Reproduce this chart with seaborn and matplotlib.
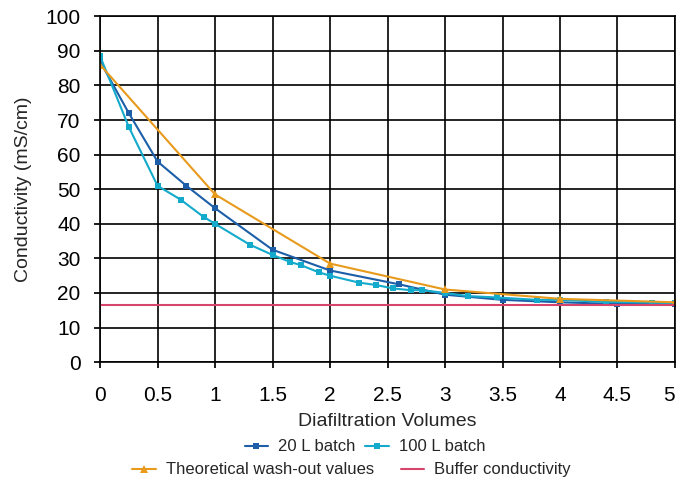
import numpy as np
import pandas as pd
import matplotlib
matplotlib.use('Agg')
import matplotlib.pyplot as plt
import seaborn as sns

#%% data
dv_20 = [0, 0.25, 0.5, 0.75, 1.0, 1.5, 2.0, 2.6, 3.0, 3.5, 4.0, 4.5, 5.0]
cond_20 = [87, 72, 58, 51, 44.5, 32.5, 26.5, 22.5, 19.5, 18, 17.3, 16.8, 16.8]

dv_100 = [0, 0.25, 0.5, 0.7, 0.9, 1.0, 1.3, 1.5, 1.65, 1.75, 1.9, 2.0, 2.25, 2.4,
          2.55, 2.7, 2.8, 3.0, 3.2, 3.45, 3.8, 4.0, 4.4, 4.8, 5.0]
cond_100 = [88.5, 68, 51, 47, 42, 40, 34, 31, 29, 28, 26, 25, 23, 22.3,
            21.3, 20.8, 20.8, 20, 19.1, 18.7, 18, 18, 17.4, 17.2, 17]

dv_theo = [0, 1, 2, 3, 4, 5]
cond_theo = [86, 48.5, 28.5, 21, 18.3, 17.3]

buffer_x = [0, 5]
buffer_y = [16.5, 16.5]

xtick_labels = ['0', '0.5', '1', '1.5', '2', '2.5', '3', '3.5', '4', '4.5', '5']

#%% plot
sns.set_theme(style='white')
plt.rcParams['font.family'] = ['Liberation Sans', 'DejaVu Sans']

fig, ax = plt.subplots(figsize=(6.76, 4.79), dpi=100)
fig.subplots_adjust(left=0.148, right=0.9985, top=0.966, bottom=0.244)

sns.lineplot(x=dv_20, y=cond_20, ax=ax, color='#1c5ea8', marker='s',
             markersize=4, markeredgewidth=0, linewidth=1.5, label='20 L batch')
sns.lineplot(x=dv_100, y=cond_100, ax=ax, color='#14aacb', marker='s',
             markersize=4.5, markeredgewidth=0, linewidth=1.5, label='100 L batch')
sns.lineplot(x=dv_theo, y=cond_theo, ax=ax, color='#e89a1c', marker='^',
             markersize=6, markeredgewidth=0, linewidth=1.5,
             label='Theoretical wash-out values')
sns.lineplot(x=buffer_x, y=buffer_y, ax=ax, color='#d6456e', linewidth=1.5,
             label='Buffer conductivity')

ax.set_xlim(0, 5)
ax.set_ylim(0, 100)
ax.set_xticks(np.arange(0, 5.01, 0.5))
ax.set_xticklabels(xtick_labels)
ax.get_xticklabels()[-1].set_horizontalalignment('right')
ax.set_yticks(np.arange(0, 101, 10))
ax.grid(True, color='black', linewidth=1.2)
for s in ax.spines.values():
    s.set_color('black')
    s.set_linewidth(1.2)
ax.tick_params(axis='both', labelsize=15, colors='black', length=4,
               direction='out', left=True, bottom=True)
ax.tick_params(axis='y', pad=10)
ax.tick_params(axis='x', pad=13)
ax.set_xlabel('Diafiltration Volumes', fontsize=14, labelpad=6)
ax.set_ylabel('Conductivity (mS/cm)', fontsize=14, labelpad=10)

handles, labels = ax.get_legend_handles_labels()
ax.get_legend().remove()
fig.legend(handles[:2], labels[:2], loc='center', bbox_to_anchor=(0.54, 0.067),
           ncol=2, frameon=False, fontsize=12, handlelength=1.4, columnspacing=0.6,
           handletextpad=0.6, borderpad=0)
fig.legend(handles[2:], labels[2:], loc='center', bbox_to_anchor=(0.52, 0.019),
           ncol=2, frameon=False, fontsize=12, handlelength=1.4, columnspacing=1.6,
           handletextpad=0.6, borderpad=0)

plt.savefig('out.png', dpi=100)
